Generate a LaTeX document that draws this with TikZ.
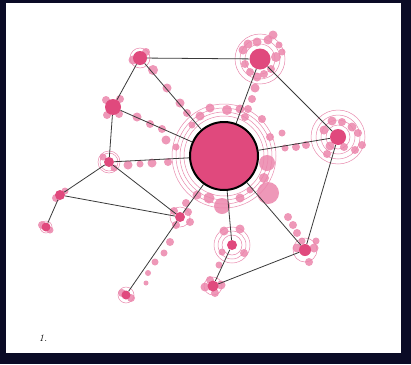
\documentclass[tikz,border=0pt]{standalone}
\usepackage{tikz}
\definecolor{navy}{HTML}{0A0B26}
\definecolor{nodepink}{HTML}{E0497D}
\definecolor{bubpink}{HTML}{EC86AC}
\definecolor{ringpink}{HTML}{E98AAE}
\definecolor{linkgray}{HTML}{3A3A3A}
\tikzset{
  hub/.style={circle, fill=nodepink, inner sep=0pt},
  link/.style={draw=linkgray, line width=0.8pt},
  bub/.style={fill=bubpink, opacity=0.85},
  ringline/.style={draw=ringpink, line width=0.5pt},
}
\begin{document}
\begin{tikzpicture}[x=1pt,y=-1pt]
\useasboundingbox (0,0) rectangle (411,364);
\fill[navy] (0,0) rectangle (411,364);
\fill[white] (6,3) rectangle (401,353);

% rings
\foreach \r in {40,44,48,52} \draw[ringline] (224,156) circle (\r pt);
\foreach \r in {12,17,22,27} \draw[ringline] (338,137) circle (\r pt);
\foreach \r in {15,20,25} \draw[ringline] (260,59) circle (\r pt);
\foreach \r in {10,14,18} \draw[ringline] (232,245) circle (\r pt);
\draw[ringline] (305,250) circle (12pt);
\draw[ringline] (180,217) circle (10pt);
\draw[ringline] (109,162) circle (9pt);
\draw[ringline] (109,162) circle (11pt);
\draw[ringline] (140,58) circle (10pt);
\draw[ringline] (126,295) circle (8pt);
\draw[ringline] (46,227) circle (6pt);
\draw[ringline] (213,286) circle (9pt);

% bubbles
\foreach \x/\y/\r in {
 153/70/5, 167/88/4.5, 180/103/4.5, 187/113/4,
 137/117/4.5, 150/124/4, 162/129/4, 166/140/4.5, 176/147/3.5,
 128/165/4.5, 140/164/3.5, 152/163/4.5, 168/162/4,
 257/77/4.5, 255/88/4.5, 252/99/4, 248/109/4,
 243/50/4.5, 248/44/4.5, 257/42/4.5, 268/40/4.5, 273/35/4.5, 276/57/5, 271/69/4,
 245/64/4, 250/72/4, 264/74/4, 282/52/3.5, 279/45/3.5,
 200/116/4.5, 210/108/4.5, 227/110/5, 240/109/4.5, 245/117/4, 262/119/4,
 270/137/4, 282/133/3.5, 192/125/3.5,
 267/163/8, 268/193/11, 264/178/5,
 285/148/3.5, 296/147/4, 306/145/4,
 324/130/4.5, 332/121/4.5, 342/122/4, 352/127/4.5, 358/133/4, 362/145/4,
 355/150/4, 344/147/4, 330/146/4.5, 327/154/4,
 222/206/8, 209/198/5.5, 197/195/4.5, 240/198/4.5, 250/190/3.5,
 288/217/4, 293/225/4, 297/233/4, 302/241/3.5,
 297/248/4.5, 314/248/4.5, 309/262/4, 316/241/3.5,
 174/211/4, 188/212/4, 190/222/4, 176/225/4, 186/203/4,
 170/242/4, 164/253/3.5, 155/262/3.5, 148/273/3, 146/283/2.5,
 224/231/4.5, 240/229/4.5, 244/253/4, 222/252/3.5, 219/265/3.5,
 205/287/4.5, 221/285/4.5, 210/280/4, 215/293/4,
 106/100/4, 120/99/4, 107/115/4, 119/114/4,
 133/60/4.5, 146/52/4,
 56/198/4, 65/191/3.5, 114/168/3.5, 103/157/3.5,
 122/293/4, 131/298/4, 42/225/4, 50/230/3.5
}{\fill[bub] (\x,\y) circle (\r pt);}

% main nodes
\node[hub, draw=black, line width=2pt, minimum size=68pt] (C) at (224,156) {};
\node[hub, minimum size=14pt] (TL) at (140,58) {};
\node[hub, minimum size=21pt] (TR) at (260,59) {};
\node[hub, minimum size=16pt] (LU) at (113,107) {};
\node[hub, minimum size=16pt] (R) at (338,137) {};
\node[hub, minimum size=10pt] (LM) at (109,162) {};
\node[hub, minimum size=10pt] (FL) at (60,195) {};
\node[hub, minimum size=9pt] (FLB) at (46,227) {};
\node[hub, minimum size=10pt] (MLL) at (180,217) {};
\node[hub, minimum size=9pt] (BL) at (126,295) {};
\node[hub, minimum size=10pt] (BCU) at (232,245) {};
\node[hub, minimum size=11pt] (BCL) at (213,286) {};
\node[hub, minimum size=12pt] (BR) at (305,250) {};

% links
\draw[link] (TL) -- (TR);
\draw[link] (TL) -- (LU);
\draw[link] (TL) -- (C);
\draw[link] (TR) -- (C);
\draw[link] (TR) -- (R);
\draw[link] (LU) -- (C);
\draw[link] (LU) -- (LM);
\draw[link] (LM) -- (C);
\draw[link] (LM) -- (FL);
\draw[link] (LM) -- (MLL);
\draw[link] (FL) -- (MLL);
\draw[link] (FL) -- (FLB);
\draw[link] (C) -- (MLL);
\draw[link] (MLL) -- (BL);
\draw[link] (C) -- (BCU);
\draw[link] (BCU) -- (BCL);
\draw[link] (BCL) -- (BR);
\draw[link] (C) -- (BR);
\draw[link] (R) -- (BR);
\draw[link] (R) -- (C);

\node[font=\itshape, anchor=center] (lbl) at (43,338) {1.};
\end{tikzpicture}
\end{document}
